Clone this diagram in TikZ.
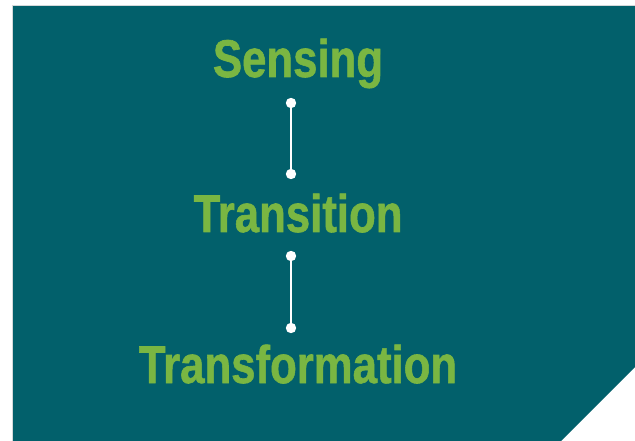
\documentclass[tikz,border=0pt]{standalone}
\usepackage{fontspec}
\setmainfont{Liberation Sans}
\newfontfamily\stagefont[FakeBold=1.2]{Liberation Sans Bold}
\definecolor{panelteal}{HTML}{02606B}
\definecolor{leafgreen}{HTML}{7AB642}
\definecolor{edgegrey}{HTML}{D4D8DA}
\begin{document}
\begin{tikzpicture}[x=1pt,y=-1pt,
  stage/.style={anchor=base, inner sep=0pt, text=leafgreen,
    font=\fontsize{53}{60}\stagefont},
  link/.style={draw=white, line width=2.8pt},
  joint/.style={fill=white}]
  \useasboundingbox (0,0) rectangle (635,441);
  \fill[white] (0,0) rectangle (635,441);
  % panel with clipped lower-right corner
  \fill[panelteal] (13,6) -- (635,6) -- (635,367) -- (561,441) -- (13,441) -- cycle;
  \draw[edgegrey, line width=0.8pt] (12.5,441) -- (12.5,5.5) -- (635,5.5);
  % stages
  \node[stage] (sensing) at (298,77) {\scalebox{0.825}[1]{Sensing}};
  \node[stage] (transition) at (298,232) {\scalebox{0.825}[1]{Transition}};
  \node[stage] (transformation) at (298,383) {\scalebox{0.825}[1]{Transformation}};
  % connector end points
  \coordinate (a1) at (291,103);
  \coordinate (a2) at (291,174);
  \coordinate (b1) at (291,256);
  \coordinate (b2) at (291,328);
  \draw[link] (a1) -- (a2);
  \draw[link] (b1) -- (b2);
  \foreach \p in {a1,a2,b1,b2} \fill[joint] (\p) circle (5.2);
\end{tikzpicture}
\end{document}
